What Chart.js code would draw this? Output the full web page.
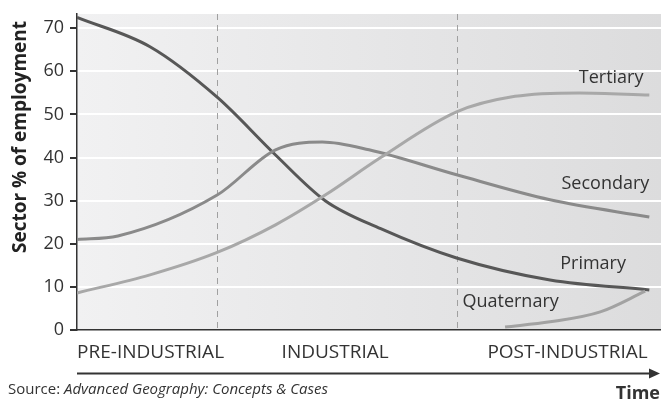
<!DOCTYPE html>
<html>
<head>
<meta charset="utf-8">
<script src="https://cdn.jsdelivr.net/npm/chart.js@4"></script>
<style>
  html, body { margin: 0; padding: 0; background: #fff; }
  #wrap { width: 661px; height: 402px; position: relative; }
</style>
</head>
<body>
<div id="wrap"><canvas id="chart"></canvas></div>
<script>
// time runs 0..100 across the chart, values are % of employment
const primaryX = [0, 12.5, 24, 34, 42.5, 52, 65, 81, 98];
const primaryY = [72.5, 65.7, 54, 40.6, 30, 23.5, 16.7, 11.6, 9.3];

const secondaryX = [0, 7, 24, 34, 42, 50, 65, 81, 98];
const secondaryY = [21, 21.8, 31.3, 41.8, 43.6, 41.8, 36, 30.2, 26.2];

const tertiaryX = [0, 12.5, 24, 34, 42.5, 52, 65, 75, 86, 98];
const tertiaryY = [8.6, 12.8, 18, 24.4, 31.3, 40, 50.6, 54.2, 55, 54.5];

const quaternaryX = [73.3, 81, 89.6, 97.3];
const quaternaryY = [0.7, 1.9, 4.2, 9];

const phaseNames = ['PRE-INDUSTRIAL', 'INDUSTRIAL', 'POST-INDUSTRIAL'];
const phaseCentres = [12.6, 44.2, 84];
const phaseBounds = [24, 65];

const yTicks = [0, 10, 20, 30, 40, 50, 60, 70];

const seriesLabels = [
    { text: 'Tertiary', x: 97, y: 58.5 },
    { text: 'Secondary', x: 98, y: 34 },
    { text: 'Primary', x: 94, y: 15.4 },
    { text: 'Quaternary', x: 66, y: 6.6, left: true }
];

function pts(xs, ys) {
    return xs.map((x, i) => ({ x: x, y: ys[i] }));
}

const FONT = '"Open Sans", "Noto Sans", sans-serif';

// gradient background, dashed phase lines, labels and the time arrow
const backdrop = {
    id: 'backdrop',
    beforeDraw(chart) {
        const { ctx, chartArea: a } = chart;
        const g = ctx.createLinearGradient(a.left, 0, a.right, 0);
        g.addColorStop(0, '#f1f1f2');
        g.addColorStop(1, '#dcdcdd');
        ctx.save();
        ctx.fillStyle = g;
        ctx.fillRect(a.left, a.top, a.right - a.left, a.bottom - a.top);
        ctx.restore();
    },
    beforeDatasetsDraw(chart) {
        const { ctx, chartArea: a, scales } = chart;
        ctx.save();
        ctx.strokeStyle = '#a0a0a0';
        ctx.lineWidth = 1;
        ctx.setLineDash([6, 5]);
        phaseBounds.forEach(v => {
            const px = Math.round(scales.x.getPixelForValue(v)) + 0.5;
            ctx.beginPath();
            ctx.moveTo(px, a.top);
            ctx.lineTo(px, a.bottom);
            ctx.stroke();
        });
        ctx.restore();
    },
    afterDraw(chart) {
        const { ctx, chartArea: a, scales, width } = chart;
        ctx.save();
        // series names
        ctx.fillStyle = '#333';
        ctx.font = '18px ' + FONT;
        ctx.textBaseline = 'middle';
        seriesLabels.forEach(l => {
            ctx.textAlign = l.left ? 'left' : 'right';
            ctx.fillText(l.text, scales.x.getPixelForValue(l.x), scales.y.getPixelForValue(l.y));
        });
        // y title
        ctx.save();
        ctx.translate(21, 137);
        ctx.rotate(-Math.PI / 2);
        ctx.textAlign = 'center';
        ctx.fillStyle = '#222';
        ctx.font = 'bold 19px ' + FONT;
        ctx.fillText('Sector % of employment', 0, 0);
        ctx.restore();
        // time arrow
        const ay = 373.5;
        ctx.strokeStyle = '#333';
        ctx.fillStyle = '#333';
        ctx.lineWidth = 2;
        ctx.beginPath();
        ctx.moveTo(a.left, ay);
        ctx.lineTo(width - 8, ay);
        ctx.stroke();
        ctx.beginPath();
        ctx.moveTo(width - 1, ay);
        ctx.lineTo(width - 12, ay - 5);
        ctx.lineTo(width - 12, ay + 5);
        ctx.closePath();
        ctx.fill();
        // source + Time
        ctx.textBaseline = 'alphabetic';
        ctx.textAlign = 'left';
        ctx.font = '15px ' + FONT;
        ctx.fillText('Source: ', 8, 394);
        const w = ctx.measureText('Source: ').width;
        ctx.font = 'italic 15px ' + FONT;
        ctx.fillText('Advanced Geography: Concepts & Cases', 8 + w, 394);
        ctx.textAlign = 'right';
        ctx.font = 'bold 18px ' + FONT;
        ctx.fillText('Time', width - 1, 399);
        ctx.restore();
    }
};

function lineSet(data, colour) {
    return {
        data: data,
        borderColor: colour,
        borderWidth: 3,
        pointRadius: 0,
        cubicInterpolationMode: 'monotone',
        fill: false
    };
}

new Chart(document.getElementById('chart'), {
    type: 'line',
    data: {
        datasets: [
            lineSet(pts(tertiaryX, tertiaryY), '#a8a8a8'),
            lineSet(pts(secondaryX, secondaryY), '#8a8a8a'),
            lineSet(pts(quaternaryX, quaternaryY), '#a2a2a2'),
            lineSet(pts(primaryX, primaryY), '#575757')
        ]
    },
    options: {
        responsive: true,
        maintainAspectRatio: false,
        animation: false,
        layout: { padding: { top: 14, right: 0, left: 0, bottom: 0 } },
        plugins: { legend: { display: false }, tooltip: { enabled: false } },
        scales: {
            x: {
                type: 'linear',
                min: 0,
                max: 100,
                afterBuildTicks: s => { s.ticks = phaseCentres.map(v => ({ value: v })); },
                afterFit: s => { s.height = 72; },
                ticks: {
                    autoSkip: false,
                    maxRotation: 0,
                    padding: 11,
                    color: '#333',
                    font: { family: FONT, size: 19 },
                    callback: (v, i) => phaseNames[i]
                },
                grid: { display: false, drawTicks: false },
                border: { color: '#333', width: 1.5 }
            },
            y: {
                min: 0,
                max: 73.3,
                afterBuildTicks: s => { s.ticks = yTicks.map(v => ({ value: v })); },
                afterFit: s => { s.width = 77; s.paddingTop = 0; s.paddingBottom = 0; },
                ticks: {
                    padding: 6,
                    color: '#333',
                    font: { family: FONT, size: 18 }
                },
                grid: {
                    color: c => c.tick && c.tick.value === 0 ? 'rgba(0,0,0,0)' : '#ffffff',
                    lineWidth: 2,
                    tickLength: 7,
                    tickColor: '#333'
                },
                border: { color: '#333', width: 1.5 }
            }
        }
    },
    plugins: [backdrop]
});
</script>
</body>
</html>
